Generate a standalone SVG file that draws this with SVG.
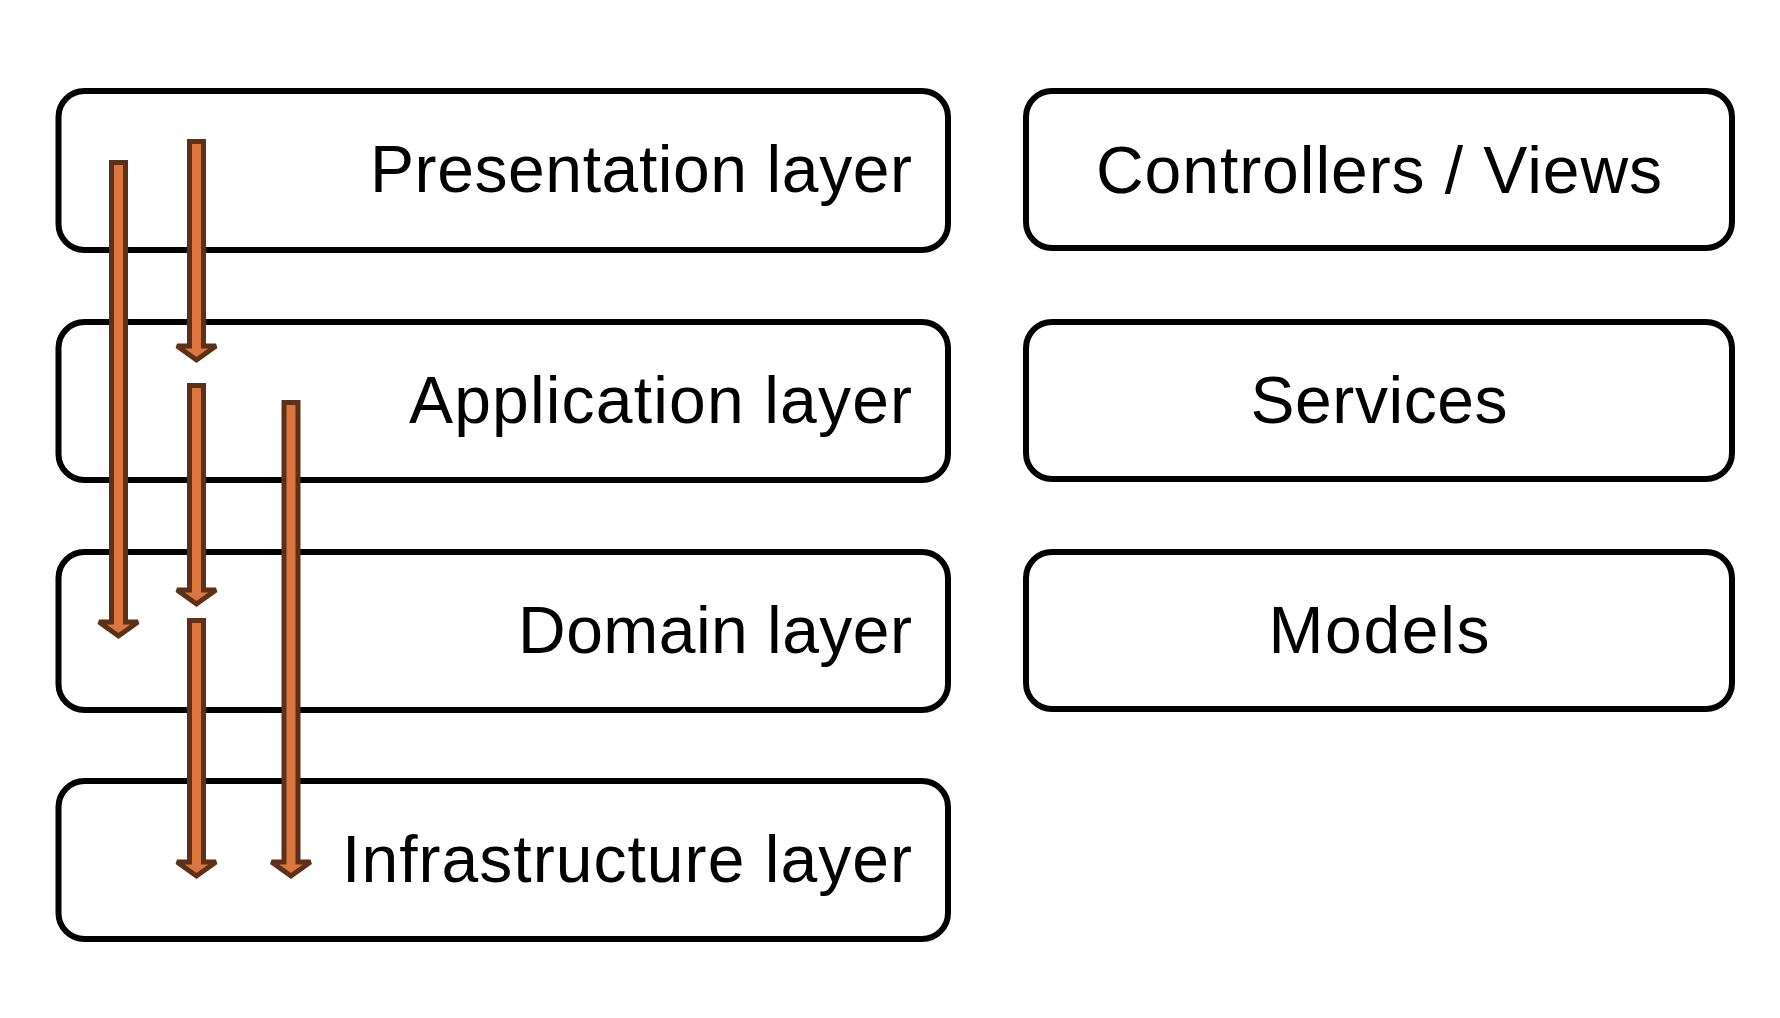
<svg xmlns="http://www.w3.org/2000/svg" width="1780" height="1018" viewBox="0 0 1780 1018">
  <style>
    .box { fill: #ffffff; stroke: #000000; stroke-width: 6; }
    .lbl { font-family: "Liberation Sans", Arial, sans-serif; font-size: 66px; fill: #000000; }
    .end { text-anchor: end; }
    .mid { text-anchor: middle; }
    .arrow { fill: #DB7641; stroke: #5C3118; stroke-width: 5; stroke-linejoin: miter; stroke-miterlimit: 2; }
  </style>
  <rect width="1780" height="1018" fill="#ffffff"/>
  <g id="presentation-layer">
    <rect class="box" x="58.5" y="91" width="889.5" height="159" rx="26"/>
    <text class="lbl end" x="912" y="192" textLength="542" lengthAdjust="spacing">Presentation layer</text>
  </g>
  <g id="application-layer">
    <rect class="box" x="58.5" y="322" width="889.5" height="158" rx="26"/>
    <text class="lbl end" x="912" y="423" textLength="503" lengthAdjust="spacing">Application layer</text>
  </g>
  <g id="domain-layer">
    <rect class="box" x="58.5" y="552" width="889.5" height="158" rx="26"/>
    <text class="lbl end" x="912" y="653" textLength="394" lengthAdjust="spacing">Domain layer</text>
  </g>
  <g id="infrastructure-layer">
    <rect class="box" x="58.5" y="781" width="889.5" height="158" rx="26"/>
    <text class="lbl end" x="912" y="882" textLength="570" lengthAdjust="spacing">Infrastructure layer</text>
  </g>
  <g id="controllers-views">
    <rect class="box" x="1026" y="91" width="706" height="157" rx="26"/>
    <text class="lbl mid" x="1379" y="193" textLength="566" lengthAdjust="spacing">Controllers / Views</text>
  </g>
  <g id="services">
    <rect class="box" x="1026" y="322" width="706" height="157" rx="26"/>
    <text class="lbl mid" x="1379" y="423" textLength="257" lengthAdjust="spacing">Services</text>
  </g>
  <g id="models">
    <rect class="box" x="1026" y="552" width="706" height="157" rx="26"/>
    <text class="lbl mid" x="1379" y="653" textLength="221" lengthAdjust="spacing">Models</text>
  </g>
  <g id="connectors">
    <!-- Presentation -> Domain -->
    <polygon class="arrow" points="111.5,162.5 125.5,162.5 125.5,622 138,622 118.5,636 99,622 111.5,622"/>
    <!-- Presentation -> Application -->
    <polygon class="arrow" points="189.5,141.5 203.5,141.5 203.5,346 216,346 196.5,360 177,346 189.5,346"/>
    <!-- Application -> Domain -->
    <polygon class="arrow" points="189.5,385.5 203.5,385.5 203.5,590 216,590 196.5,604 177,590 189.5,590"/>
    <!-- Application -> Infrastructure -->
    <polygon class="arrow" points="284,402.5 298,402.5 298,862 310.5,862 291,876 271.5,862 284,862"/>
    <!-- Domain -> Infrastructure -->
    <polygon class="arrow" points="189.5,620.5 203.5,620.5 203.5,862 216,862 196.5,876 177,862 189.5,862"/>
  </g>
</svg>
